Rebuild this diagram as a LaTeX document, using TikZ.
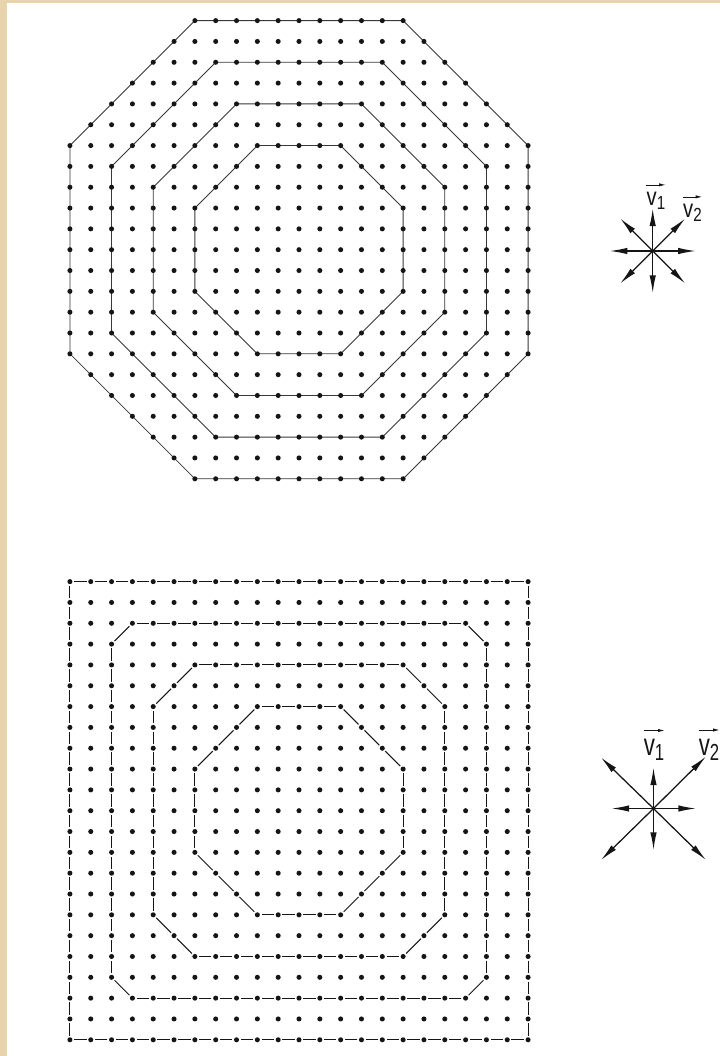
\documentclass[tikz,border=0pt]{standalone}
\usepackage{amsmath}
\usepackage{fontspec}
\setsansfont{Liberation Sans}
\usetikzlibrary{arrows.meta,calc}
\definecolor{ink}{HTML}{151515}
\definecolor{paper}{HTML}{E8D4AC}

\newcommand\octline[3]{\draw[#3] (-#1+#2,-#1) -- (#1-#2,-#1) -- (#1,-#1+#2) -- (#1,#1-#2) -- (#1-#2,#1) -- (-#1+#2,#1) -- (-#1,#1-#2) -- (-#1,-#1+#2) -- cycle;}
\newcommand\octdashed[2]{%
  \draw[hdash] (-#1+#2,-#1) -- (#1-#2,-#1);
  \draw[hdash] (#1,-#1+#2) -- (#1,#1-#2);
  \draw[hdash] (#1-#2,#1) -- (-#1+#2,#1);
  \draw[hdash] (-#1,#1-#2) -- (-#1,-#1+#2);
  \draw[ddash] (#1-#2,-#1) -- (#1,-#1+#2);
  \draw[ddash] (#1,#1-#2) -- (#1-#2,#1);
  \draw[ddash] (-#1+#2,#1) -- (-#1,#1-#2);
  \draw[ddash] (-#1,-#1+#2) -- (-#1+#2,-#1);}
\newcommand\veclabel[2]{\scalebox{#2}[1]{v\raisebox{-0.32ex}{\scalebox{0.75}{#1}}}}

\begin{document}
\begin{tikzpicture}[x=0.025cm,y=-0.025cm,font=\sffamily,
  latline/.style={ink!85,line width=0.6pt},
  hdash/.style={ink,line width=0.7pt,dash pattern=on 3.105mm off 2.1mm,dash phase=4.155mm},
  ddash/.style={ink,line width=0.7pt,dash pattern=on 5.261mm off 2.1mm,dash phase=6.311mm},
  vecarrow/.style={ink,line width=0.9pt,-{Latex[length=4.4mm,width=1.6mm]}},
  overarrow/.style={ink,line width=0.5pt,-{Latex[length=1.6mm,width=0.8mm]}},
  lbl/.style={inner sep=0pt,text=ink}]
  \useasboundingbox (0,0) rectangle (720,1056);
  \fill[paper] (0,0) rectangle (720,1056);
  \fill[white] (7,3) rectangle (720,1056);

  % octagonal lattice
  \begin{scope}[shift={(299,249.7)},x=0.5205cm,y=-0.5205cm]
    \foreach \s/\c in {11/6,9/5,7/4,5/3} {\octline{\s}{\c}{latline}}
    \foreach \j in {-11,...,11}{
      \pgfmathtruncatemacro\halfw{min(11,16-abs(\j))}
      \pgfmathtruncatemacro\lefti{-\halfw}
      \foreach \i in {\lefti,...,\halfw} \fill[ink] (\i,\j) circle[radius=1.8pt];
    }
  \end{scope}

  % square lattice
  \begin{scope}[shift={(299,810.7)},x=0.5205cm,y=-0.5205cm]
    \foreach \s/\c in {11/0,9/1,7/2,5/3} {\octdashed{\s}{\c}}
    \foreach \i in {-11,...,11}
      \foreach \j in {-11,...,11} \fill[ink] (\i,\j) circle[radius=1.8pt];
  \end{scope}

  % velocity sets
  \coordinate (ctop) at (652.7,251);
  \foreach \dx/\dy/\n in {43/0/e,-43/0/w,0/-42.5/n,0/42/s,32.5/-32.5/ne,-32.5/-32.5/nw,32.5/32.5/se,-32.5/32.5/sw}{
    \coordinate (ctop\n) at ($(ctop)+(\dx,\dy)$);
    \draw[vecarrow] (ctop) -- (ctop\n);
  }
  \node[lbl,font=\sffamily\fontsize{18}{18}\selectfont] (vonetop) at (656,201) {\veclabel{1}{0.8}};
  \node[lbl,font=\sffamily\fontsize{18}{18}\selectfont] (vtwotop) at (692.5,213) {\veclabel{2}{0.8}};
  \draw[overarrow] ([yshift=5pt]vonetop.north west) -- ([yshift=5pt]vonetop.north east);
  \draw[overarrow] ([yshift=5pt]vtwotop.north west) -- ([yshift=5pt]vtwotop.north east);

  \coordinate (cbot) at (653.5,808.5);
  \foreach \dx/\dy/\n in {42.5/0/e,-42/0/w,0/-41/n,0/41.5/s,52.5/-52/ne,-52.5/-51/nw,52.5/51.5/se,-52.5/51.5/sw}{
    \coordinate (cbot\n) at ($(cbot)+(\dx,\dy)$);
    \draw[vecarrow] (cbot) -- (cbot\n);
  }
  \node[lbl,font=\sffamily\fontsize{22}{22}\selectfont] (vonebot) at (654,750) {\veclabel{1}{0.72}};
  \node[lbl,font=\sffamily\fontsize{22}{22}\selectfont] (vtwobot) at (709,749.5) {\veclabel{2}{0.72}};
  \draw[overarrow] ([yshift=6pt]vonebot.north west) -- ([yshift=6pt]vonebot.north east);
  \draw[overarrow] ([yshift=6pt]vtwobot.north west) -- ([yshift=6pt]vtwobot.north east);
\end{tikzpicture}
\end{document}
